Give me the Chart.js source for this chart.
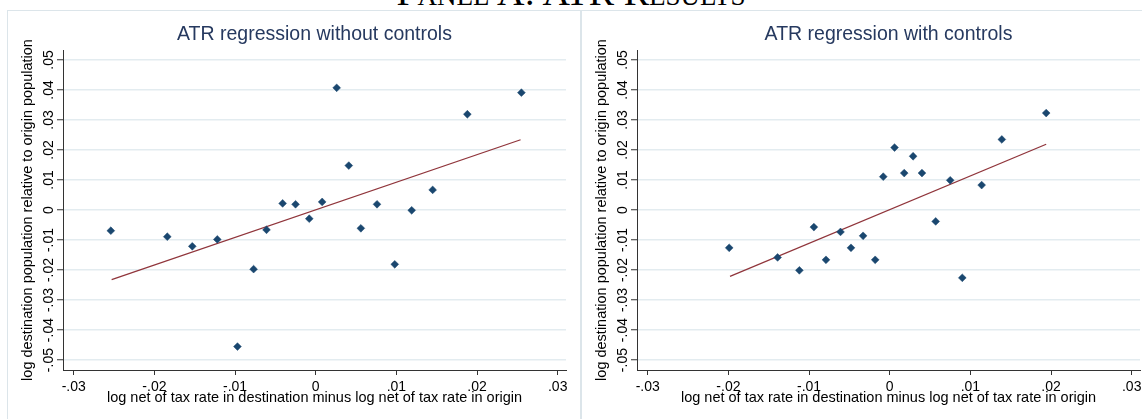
<!DOCTYPE html>
<html>
<head>
<meta charset="utf-8">
<script src="https://cdn.jsdelivr.net/npm/chart.js@4.4.1/dist/chart.umd.min.js"></script>
<style>
  html, body { margin: 0; padding: 0; background: #fff; }
  body { width: 1142px; height: 419px; overflow: hidden; position: relative; }
  .panelTitle {
    position: absolute; left: 0; top: -27px; width: 1142px; text-align: center;
    font-family: "Liberation Serif", "DejaVu Serif", serif; font-size: 38px; line-height: 1;
    font-variant: small-caps; color: #000; white-space: nowrap;
  }
  .box { position: absolute; top: 10px; height: 430px; box-sizing: border-box; border: 1px solid #dce5ea; }
  canvas { position: absolute; top: 0; }
</style>
</head>
<body>
<div class="panelTitle">Panel A: ATR Results</div>
<div class="box" style="left:7px; width:574px;"></div>
<div class="box" style="left:581px; width:600px;"></div>
<canvas id="atr_nocontrols" width="580" height="419" style="left:0px"></canvas>
<canvas id="atr_controls" width="580" height="419" style="left:574px"></canvas>
<script>
// ticks du graphique Stata
var xTicks = [-0.03, -0.02, -0.01, 0, 0.01, 0.02, 0.03];
var xTickLabels = ['-.03', '-.02', '-.01', '0', '.01', '.02', '.03'];
var yTicks = [-0.05, -0.04, -0.03, -0.02, -0.01, 0, 0.01, 0.02, 0.03, 0.04, 0.05];
var yTickLabels = ['-.05', '-.04', '-.03', '-.02', '-.01', '0', '.01', '.02', '.03', '.04', '.05'];

// sans controles
var noCtrlX = [-0.0254, -0.0184, -0.0153, -0.0122, -0.0097, -0.0077, -0.0061, -0.0041, -0.0025, -0.0008,
               0.0008, 0.0026, 0.0041, 0.0056, 0.0076, 0.0098, 0.0119, 0.0145, 0.0188, 0.0255];
var noCtrlY = [-0.0069, -0.0089, -0.0121, -0.0098, -0.0455, -0.0197, -0.0066, 0.0022, 0.0019, -0.0029,
               0.0027, 0.0407, 0.0148, -0.0061, 0.0019, -0.0181, -0.0001, 0.0067, 0.0319, 0.0391];
var noCtrlFitX = [-0.0253, 0.0254];
var noCtrlFitY = [-0.0232, 0.0234];

// avec controles
var ctrlX = [-0.0199, -0.0139, -0.0112, -0.0094, -0.0079, -0.0061, -0.0048, -0.0033, -0.0018, -0.0008,
             0.0006, 0.0018, 0.0029, 0.0040, 0.0057, 0.0075, 0.0090, 0.0114, 0.0139, 0.0194];
var ctrlY = [-0.0126, -0.0158, -0.0201, -0.0057, -0.0166, -0.0073, -0.0126, -0.0086, -0.0166, 0.0111,
             0.0208, 0.0123, 0.0179, 0.0123, -0.0038, 0.0099, -0.0226, 0.0083, 0.0235, 0.0323];
var ctrlFitX = [-0.0198, 0.0194];
var ctrlFitY = [-0.0221, 0.0219];

var FONT = '"Liberation Sans", Arial, sans-serif';

function toPoints(xs, ys) {
    return xs.map(function (x, i) { return { x: x, y: ys[i] }; });
}

function makeChart(id, title, xs, ys, fitX, fitY) {
    var ctx = document.getElementById(id).getContext('2d');
    return new Chart(ctx, {
        type: 'scatter',
        data: {
            datasets: [{
                data: toPoints(xs, ys),
                pointStyle: 'rectRot',
                pointRadius: 3.9,
                backgroundColor: '#1a476f',
                borderColor: '#1a476f',
                borderWidth: 0.5
            }, {
                type: 'line',
                data: toPoints(fitX, fitY),
                borderColor: '#90353b',
                borderWidth: 1.3,
                pointRadius: 0,
                fill: false,
                showLine: true
            }]
        },
        options: {
            responsive: false,
            animation: false,
            devicePixelRatio: 1,
            layout: { padding: { left: 0, right: 14, top: 0, bottom: 0 } },
            plugins: {
                legend: { display: false },
                tooltip: { enabled: false },
                title: {
                    display: true,
                    text: title,
                    fullSize: false,
                    color: '#26395f',
                    font: { family: FONT, size: 19.5, weight: 'normal', lineHeight: 1.2 },
                    padding: { top: 22.8, bottom: 3.8 }
                }
            },
            scales: {
                x: {
                    type: 'linear',
                    min: -0.03133,
                    max: 0.03103,
                    afterBuildTicks: function (scale) {
                        scale.ticks = xTicks.map(function (v) { return { value: v }; });
                    },
                    afterFit: function (scale) { scale.height = 49; },
                    grid: { drawOnChartArea: false, drawTicks: true, tickLength: 5, tickColor: '#333', tickWidth: 1 },
                    border: { display: true, color: '#333', width: 1 },
                    ticks: {
                        autoSkip: false,
                        maxRotation: 0,
                        padding: 4.1,
                        color: '#000',
                        font: { family: FONT, size: 14 },
                        callback: function (v) { return xTickLabels[xTicks.indexOf(v)]; }
                    },
                    title: {
                        display: true,
                        text: 'log net of tax rate in destination minus log net of tax rate in origin',
                        color: '#000',
                        font: { family: FONT, size: 14.5 },
                        padding: { top: 0, bottom: 12.1 }
                    }
                },
                y: {
                    type: 'linear',
                    min: -0.0533,
                    max: 0.0533,
                    afterBuildTicks: function (scale) {
                        scale.ticks = yTicks.map(function (v) { return { value: v }; });
                    },
                    afterFit: function (scale) { scale.width = 63; },
                    grid: { color: '#e3ecf0', lineWidth: 1.5, drawTicks: true, tickLength: 6, tickColor: '#333', tickWidth: 1 },
                    border: { display: true, color: '#333', width: 1 },
                    ticks: {
                        minRotation: 90,
                        maxRotation: 90,
                        crossAlign: 'center',
                        padding: -4.2,
                        color: '#000',
                        font: { family: FONT, size: 14 },
                        callback: function (v) { return yTickLabels[yTicks.indexOf(v)]; }
                    },
                    title: {
                        display: true,
                        text: 'log destination population relative to origin population',
                        color: '#000',
                        font: { family: FONT, size: 14.5 },
                        padding: { top: 19, bottom: 0 }
                    }
                }
            }
        }
    });
}

document.addEventListener('DOMContentLoaded', function () {
    makeChart('atr_nocontrols', 'ATR regression without controls', noCtrlX, noCtrlY, noCtrlFitX, noCtrlFitY);
    makeChart('atr_controls', 'ATR regression with controls', ctrlX, ctrlY, ctrlFitX, ctrlFitY);
});
</script>
</body>
</html>
